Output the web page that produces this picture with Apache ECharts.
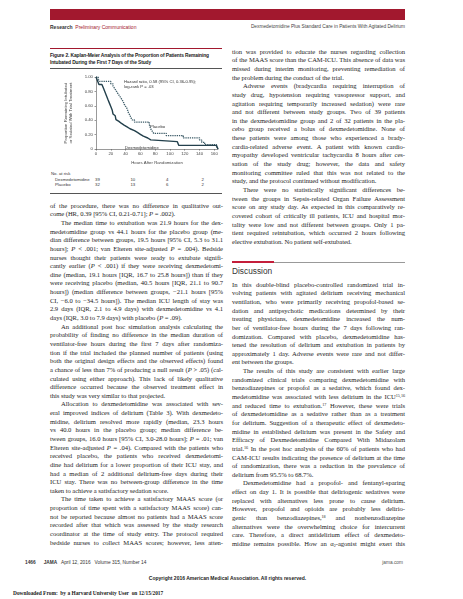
<!DOCTYPE html>
<html>
<head>
<meta charset="utf-8">
<script src="https://cdn.jsdelivr.net/npm/echarts@6/dist/echarts.min.js"></script>
<style>
  html, body { margin: 0; padding: 0; background: #fff; }
  #page { position: relative; width: 463px; height: 599px; overflow: hidden; background: #fff; color: #333; }
  .abs { position: absolute; white-space: nowrap; }
  .sans { font-family: "Liberation Sans", Arial, sans-serif; }
  .serif { font-family: "Liberation Serif", "Times New Roman", serif; }
  .col { position: absolute; width: 173px; font-family: "Liberation Serif", serif; font-size: 6.6px; color: #1e1e1e; }
  .ln { height: 8.65px; line-height: 8.65px; white-space: nowrap; text-align: justify; text-align-last: justify; letter-spacing: -0.04px; }
  .ln.end { text-align-last: left; }
  .ln.ind { text-indent: 11px; }
  sup { font-size: 4.2px; line-height: 0; vertical-align: 2px; }
  sub { font-size: 4.2px; line-height: 0; vertical-align: -1px; }
</style>
</head>
<body>
<div id="page">
  <!-- header -->
  <div class="abs" style="left:50px;top:9px;width:355px;height:11px;background:#a2182e;"></div>
  <div class="abs sans" style="left:50px;top:24px;font-size:5px;"><b style="color:#333">Research</b>&nbsp; <span style="color:#a2182e">Preliminary Communication</span></div>
  <div class="abs sans" style="right:58px;top:24px;font-size:4.8px;color:#444;">Dexmedetomidine Plus Standard Care in Patients With Agitated Delirium</div>

  <!-- figure frame -->
  <div class="abs" style="left:50px;top:48px;width:172px;height:1px;background:#a2182e;"></div>
  <div class="abs sans" style="left:50px;top:51.5px;font-size:4.9px;line-height:7px;font-weight:bold;color:#222;letter-spacing:-0.12px;">Figure 2. Kaplan-Meier Analysis of the Proportion of Patients Remaining<br>Intubated During the First 7 Days of the Study</div>
  <div class="abs" style="left:50px;top:67.5px;width:172px;height:1px;background:#555;"></div>
  <div id="chart" class="abs" style="left:40px;top:70px;width:185px;height:100px;"></div>
  <div id="risk" class="abs sans" style="left:40px;top:170px;width:185px;height:20px;font-size:4.3px;color:#333;"></div>
  <div class="abs" style="left:50px;top:192.5px;width:172px;height:1px;background:#555;"></div>

  <div id="leftcol" class="col" style="left:50px;top:201.7px;"></div>
  <div id="rightcol1" class="col" style="left:232px;top:47.7px;"></div>
  <div class="abs" style="left:232px;top:261.5px;width:173px;height:0.8px;background:#999;"></div>
  <div class="abs" style="left:232px;top:260.5px;width:42px;height:2.2px;background:#c41e3a;"></div>
  <div class="abs sans" style="left:232px;top:266px;font-size:8.3px;color:#333;">Discussion</div>
  <div id="rightcol2" class="col" style="left:232px;top:280.7px;"></div>

  <!-- footer -->
  <div class="abs sans" style="left:25px;top:560px;font-size:4.8px;color:#333;"><b>1466</b>&nbsp;&nbsp;&nbsp;&nbsp;&nbsp;&nbsp;<b>JAMA</b>&nbsp;&nbsp; April 12, 2016&nbsp;&nbsp; Volume 315, Number 14</div>
  <div class="abs sans" style="right:60px;top:560px;font-size:4.8px;color:#555;">jama.com</div>
  <div class="abs sans" style="left:0;width:455px;text-align:center;top:575px;font-size:5px;font-weight:bold;color:#222;">Copyright 2016 American Medical Association. All rights reserved.</div>
  <div class="abs serif" style="left:13px;top:589.5px;font-size:5.4px;font-weight:bold;color:#222;">Downloaded From:&nbsp; by a Harvard University User&nbsp; on 12/15/2017</div>
</div>

<script>
// Kaplan-Meier steps (hours after randomization, proportion still intubated)
const dexHours = [0, 1, 2, 3, 4, 8, 10, 11, 12, 13, 14, 15, 16, 17, 18, 19, 20, 21, 22, 22.5, 23, 24, 26, 27, 29, 31, 34, 38, 42, 46, 52, 56, 60, 64, 70, 74, 110, 112, 163, 165];
const dexProp  = [1, 0.974, 0.949, 0.923, 0.897, 0.872, 0.846, 0.821, 0.795, 0.769, 0.744, 0.718, 0.692, 0.667, 0.641, 0.615, 0.59, 0.564, 0.538, 0.513, 0.487, 0.462, 0.436, 0.41, 0.385, 0.359, 0.333, 0.308, 0.282, 0.256, 0.231, 0.205, 0.179, 0.154, 0.128, 0.103, 0.077, 0.051, 0.026, 0];
const placeboHours = [0, 3, 5, 20, 23, 25, 27, 29, 31, 33, 35, 37, 38, 40, 42, 43, 44, 46, 47, 49, 52, 72, 73, 74, 76, 78, 95, 118, 140, 143, 147, 163, 165];
const placeboProp  = [1, 0.969, 0.938, 0.906, 0.875, 0.844, 0.812, 0.781, 0.75, 0.719, 0.688, 0.656, 0.625, 0.594, 0.562, 0.531, 0.5, 0.469, 0.438, 0.406, 0.375, 0.344, 0.312, 0.281, 0.25, 0.219, 0.188, 0.156, 0.125, 0.094, 0.062, 0.031, 0];

const xTicks = [0, 20, 40, 60, 80, 100, 120, 140, 160];
const riskHours = [0, 48, 96, 144];
const riskDex = [39, 10, 4, 2];
const riskPlacebo = [32, 13, 6, 2];

const leftLines = [
  "of the procedure, there was no difference in qualitative out-",
  "come (HR, 0.39 [95% CI, 0.21-0.71]; <i>P</i> = .002).|",
  ">The median time to extubation was 21.9 hours for the dex-",
  "medetomidine group vs 44.1 hours for the placebo group (me-",
  "dian difference between groups, 19.5 hours [95% CI, 5.3 to 31.1",
  "hours]; <i>P</i> &lt; .001; van Elteren site-adjusted <i>P</i> = .004). Bedside",
  "nurses thought their patients were ready to extubate signifi-",
  "cantly earlier (<i>P</i> &lt; .001) if they were receiving dexmedetomi-",
  "dine (median, 19.1 hours [IQR, 16.7 to 25.8 hours]) than if they",
  "were receiving placebo (median, 40.5 hours [IQR, 21.1 to 90.7",
  "hours]) (median difference between groups, &minus;21.1 hours [95%",
  "CI, &minus;6.0 to &minus;34.5 hours]). The median ICU length of stay was",
  "2.9 days (IQR, 2.1 to 4.9 days) with dexmedetomidine vs 4.1",
  "days (IQR, 3.0 to 7.9 days) with placebo (<i>P</i> = .09).|",
  ">An additional post hoc simulation analysis calculating the",
  "probability of finding no difference in the median duration of",
  "ventilator-free hours during the first 7 days after randomiza-",
  "tion if the trial included the planned number of patients (using",
  "both the original design effects and the observed effects) found",
  "a chance of less than 7% of producing a null result (<i>P</i> &gt; .05) (cal-",
  "culated using either approach). This lack of likely qualitative",
  "difference occurred because the observed treatment effect in",
  "this study was very similar to that projected.|",
  ">Allocation to dexmedetomidine was associated with sev-",
  "eral improved indices of delirium (Table 3). With dexmedeto-",
  "midine, delirium resolved more rapidly (median, 23.3 hours",
  "vs 40.0 hours in the placebo group; median difference be-",
  "tween groups, 16.0 hours [95% CI, 3.0-28.0 hours]; <i>P</i> = .01; van",
  "Elteren site-adjusted <i>P</i> = .04). Compared with the patients who",
  "received placebo, the patients who received dexmedetomi-",
  "dine had delirium for a lower proportion of their ICU stay, and",
  "had a median of 2 additional delirium-free days during their",
  "ICU stay. There was no between-group difference in the time",
  "taken to achieve a satisfactory sedation score.|",
  ">The time taken to achieve a satisfactory MAAS score (or",
  "proportion of time spent with a satisfactory MAAS score) can-",
  "not be reported because almost no patients had a MAAS score",
  "recorded after that which was assessed by the study research",
  "coordinator at the time of study entry. The protocol required",
  "bedside nurses to collect MAAS scores; however, less atten-"
];

const rightLines1 = [
  "tion was provided to educate the nurses regarding collection",
  "of the MAAS score than the CAM-ICU. This absence of data was",
  "missed during interim monitoring, preventing remediation of",
  "the problem during the conduct of the trial.|",
  ">Adverse events (bradycardia requiring interruption of",
  "study drug, hypotension requiring vasopressor support, and",
  "agitation requiring temporarily increased sedation) were rare",
  "and not different between study groups. Two of 39 patients",
  "in the dexmedetomidine group and 2 of 32 patients in the pla-",
  "cebo group received a bolus of dexmedetomidine. None of",
  "these patients were among those who experienced a brady-",
  "cardia-related adverse event. A patient with known cardio-",
  "myopathy developed ventricular tachycardia 8 hours after ces-",
  "sation of the study drug; however, the data and safety",
  "monitoring committee ruled that this was not related to the",
  "study, and the protocol continued without modification.|",
  ">There were no statistically significant differences be-",
  "tween the groups in Sepsis-related Organ Failure Assessment",
  "score on any study day. As expected in this comparatively re-",
  "covered cohort of critically ill patients, ICU and hospital mor-",
  "tality were low and not different between groups. Only 1 pa-",
  "tient required reintubation, which occurred 2 hours following",
  "elective extubation. No patient self-extubated.|"
];

const rightLines2 = [
  "In this double-blind placebo-controlled randomized trial in-",
  "volving patients with agitated delirium receiving mechanical",
  "ventilation, who were primarily receiving propofol-based se-",
  "dation and antipsychotic medications determined by their",
  "treating physicians, dexmedetomidine increased the num-",
  "ber of ventilator-free hours during the 7 days following ran-",
  "domization. Compared with placebo, dexmedetomidine has-",
  "tened the resolution of delirium and extubation in patients by",
  "approximately 1 day. Adverse events were rare and not differ-",
  "ent between the groups.|",
  ">The results of this study are consistent with earlier large",
  "randomized clinical trials comparing dexmedetomidine with",
  "benzodiazepines or propofol as a sedative, which found dex-",
  "medetomidine was associated with less delirium in the ICU<sup>15,16</sup>",
  "and reduced time to extubation.<sup>17</sup> However, these were trials",
  "of dexmedetomidine as a sedative rather than as a treatment",
  "for delirium. Suggestion of a therapeutic effect of dexmedeto-",
  "midine in established delirium was present in the Safety and",
  "Efficacy of Dexmedetomidine Compared With Midazolam",
  "trial.<sup>16</sup> In the post hoc analysis of the 60% of patients who had",
  "CAM-ICU results indicating the presence of delirium at the time",
  "of randomization, there was a reduction in the prevalence of",
  "delirium from 95.5% to 68.7%.|",
  ">Dexmedetomidine had a propofol- and fentanyl-sparing",
  "effect on day 1. It is possible that deliriogenic sedatives were",
  "replaced with alternatives less prone to cause delirium.",
  "However, propofol and opioids are probably less delirio-",
  "genic than benzodiazepines,<sup>18</sup> and nonbenzodiazepine",
  "alternatives were the overwhelming choice for intercurrent",
  "care. Therefore, a direct antidelirium effect of dexmedeto-",
  "midine remains possible. How an &alpha;<sub>2</sub>-agonist might exert this"
];

function fillColumn(id, lines) {
  const el = document.getElementById(id);
  el.innerHTML = lines.map(function (s) {
    let cls = 'ln';
    if (s.charAt(0) === '>') { cls += ' ind'; s = s.slice(1); }
    if (s.charAt(s.length - 1) === '|') { cls += ' end'; s = s.slice(0, -1); }
    return '<div class="' + cls + '">' + s + '</div>';
  }).join('');
}
fillColumn('leftcol', leftLines);
fillColumn('rightcol1', rightLines1);
fillColumn('rightcol2', rightLines2);

// number at risk table, columns placed on the same hour scale as the plot
function buildRisk(chart) {
  const box = document.getElementById('risk');
  let html = '<div class="abs" style="left:11px;top:0.5px;">No. at risk</div>' +
             '<div class="abs" style="left:15px;top:6.5px;">Dexmedetomidine</div>' +
             '<div class="abs" style="left:15px;top:12px;">Placebo</div>';
  riskHours.forEach(function (h, i) {
    const x = chart.convertToPixel({ xAxisIndex: 0 }, h);
    html += '<div class="abs" style="left:' + (x - 1) + 'px;top:6.5px;">' + riskDex[i] + '</div>';
    html += '<div class="abs" style="left:' + (x - 1) + 'px;top:12px;">' + riskPlacebo[i] + '</div>';
  });
  box.innerHTML = html;
}

const chart = echarts.init(document.getElementById('chart'), null, { renderer: 'canvas' });
const axisTxt = { fontFamily: 'Liberation Sans', fontSize: 4.3, color: '#444' };

chart.setOption({
  animation: false,
  grid: { left: 56, top: 7, right: 7, bottom: 18 },
  xAxis: {
    type: 'value', min: 0, max: 165,
    name: 'Hours After Randomization', nameLocation: 'middle', nameGap: 11,
    nameTextStyle: axisTxt,
    axisLine: { lineStyle: { color: '#555', width: 0.6 } },
    axisTick: { length: 1.5, lineStyle: { color: '#555', width: 0.6 }, customValues: xTicks },
    axisLabel: Object.assign({ margin: 3, customValues: xTicks }, axisTxt),
    splitLine: { show: false }
  },
  yAxis: {
    type: 'value', min: 0, max: 1, interval: 0.2,
    name: 'Proportion Remaining Intubated\nor Sedated With Trial Treatment',
    nameLocation: 'middle', nameRotate: 90, nameGap: 13,
    nameTextStyle: Object.assign({ lineHeight: 5 }, axisTxt),
    axisLine: { show: true, lineStyle: { color: '#555', width: 0.6 } },
    axisTick: { show: true, length: 1.5, lineStyle: { color: '#555', width: 0.6 } },
    axisLabel: Object.assign({ margin: 3, formatter: function (v) { return v === 0 ? '0' : v.toFixed(2); } }, axisTxt),
    splitLine: { show: false }
  },
  series: [
    {
      name: 'Placebo', type: 'line', step: 'end', symbol: 'none',
      lineStyle: { color: '#3d5c68', width: 1.3, type: [1.3, 0.9] },
      data: placeboHours.map(function (h, i) { return [h, placeboProp[i]]; })
    },
    {
      name: 'Dexmedetomidine', type: 'line', step: 'end', symbol: 'none',
      lineStyle: { color: '#23404c', width: 1.4 },
      data: dexHours.map(function (h, i) { return [h, dexProp[i]]; })
    }
  ],
  graphic: [
    { type: 'text', left: 84, top: 9, style: { text: 'Hazard ratio, 0.58 (95% CI, 0.36-0.95);\nlog-rank P = .03', font: '4.2px Liberation Sans', fill: '#333', lineHeight: 5.5 } },
    { type: 'text', left: 110, top: 55, style: { text: 'Placebo', font: '4.2px Liberation Sans', fill: '#333' } },
    { type: 'text', left: 85, top: 76, style: { text: 'Dexmedetomidine', font: '4.2px Liberation Sans', fill: '#333' } }
  ]
});

buildRisk(chart);
</script>
</body>
</html>
